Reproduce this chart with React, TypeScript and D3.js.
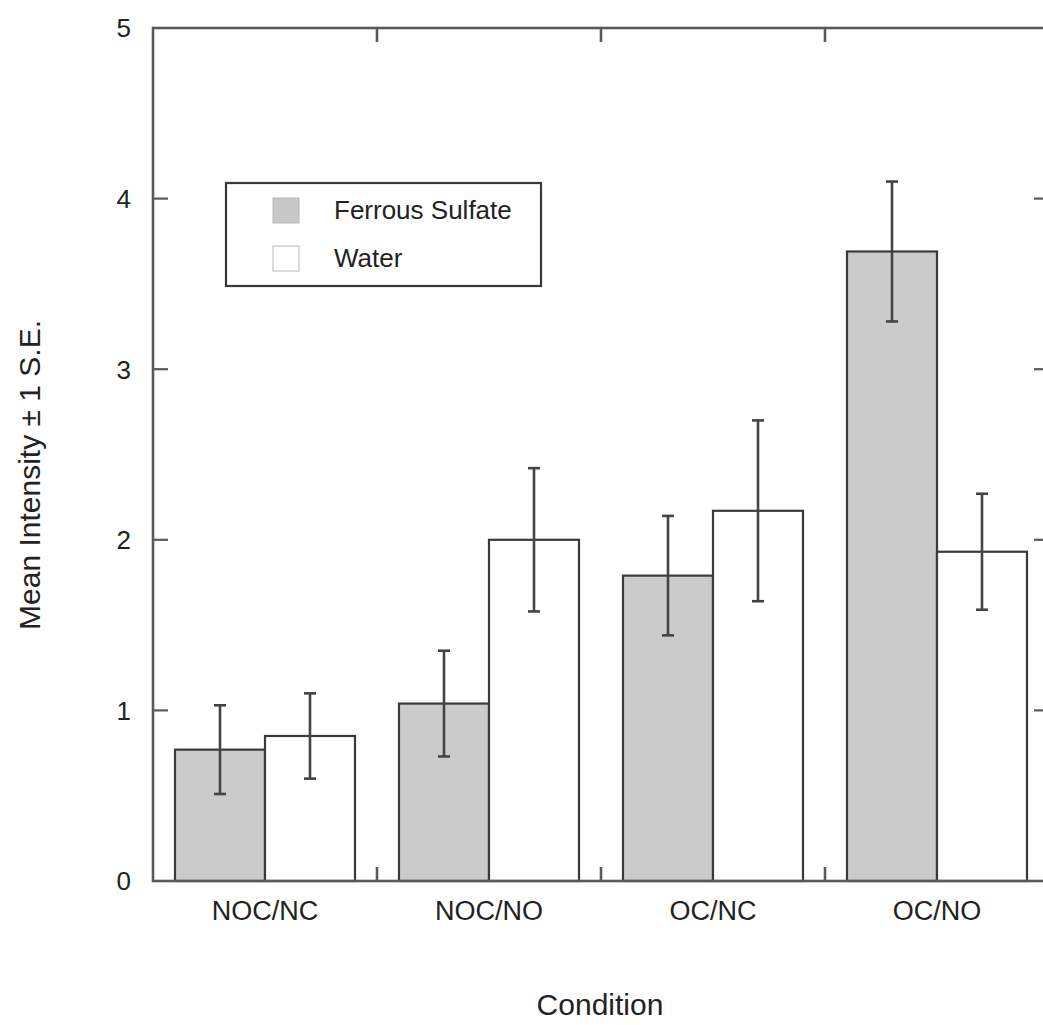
import React from "react";
import * as d3 from "d3";

const categories = ["NOC/NC", "NOC/NO", "OC/NC", "OC/NO"];
const seriesNames = ["Ferrous Sulfate", "Water"];
const ferrousMeans = [0.77, 1.04, 1.79, 3.69];
const ferrousSE = [0.26, 0.31, 0.35, 0.41];
const waterMeans = [0.85, 2.0, 2.17, 1.93];
const waterSE = [0.25, 0.42, 0.53, 0.34];
const yTicks = [0, 1, 2, 3, 4, 5];

const W = 1043;
const H = 1025;
const left = 153;
const right = 1049;
const top = 28;
const bottom = 881;

export default function App() {
  const x = d3.scaleBand<string>().domain(categories).range([left, right]).padding(0);
  const xs = d3.scaleBand<string>().domain(seriesNames).range([22, 202]).padding(0);
  const y = d3.scaleLinear().domain([0, 5]).range([bottom, top]);

  const series = [
    { name: seriesNames[0], means: ferrousMeans, se: ferrousSE, fill: "#cbcbcb" },
    { name: seriesNames[1], means: waterMeans, se: waterSE, fill: "#ffffff" },
  ];

  const axisColor = "#5a5a5a";
  const font = "'Liberation Sans', Arial, Helvetica, sans-serif";
  const boundaries = categories.slice(1).map((c) => x(c)!);

  return (
    <div style={{ position: "fixed", left: 0, top: 0, width: W, height: H, overflow: "hidden", background: "#fff" }}>
      <svg width={W} height={H} style={{ display: "block" }}>
        <rect x={0} y={0} width={W} height={H} fill="#fff" />
        {series.map((s) =>
          categories.map((c, i) => {
            const bx = x(c)! + xs(s.name)!;
            const bw = xs.bandwidth();
            return (
              <rect
                key={s.name + c}
                x={bx}
                y={y(s.means[i])}
                width={bw}
                height={y(0) - y(s.means[i])}
                fill={s.fill}
                stroke="#3a3a3a"
                strokeWidth={2.2}
              />
            );
          })
        )}
        {series.map((s) =>
          categories.map((c, i) => {
            const cx = x(c)! + xs(s.name)! + xs.bandwidth() / 2;
            const hi = y(s.means[i] + s.se[i]);
            const lo = y(s.means[i] - s.se[i]);
            return (
              <g key={"e" + s.name + c} stroke="#444" strokeWidth={2.6}>
                <line x1={cx} x2={cx} y1={hi} y2={lo} />
                <line x1={cx - 6} x2={cx + 6} y1={hi} y2={hi} />
                <line x1={cx - 6} x2={cx + 6} y1={lo} y2={lo} />
              </g>
            );
          })
        )}
        <rect x={left} y={top} width={right - left} height={bottom - top} fill="none" stroke={axisColor} strokeWidth={2.6} />
        {yTicks.slice(1, 5).map((t) => (
          <g key={"yt" + t} stroke={axisColor} strokeWidth={2.2}>
            <line x1={left} x2={left + 15} y1={y(t)} y2={y(t)} />
            <line x1={right} x2={right - 15} y1={y(t)} y2={y(t)} />
          </g>
        ))}
        {boundaries.map((b) => (
          <g key={"xt" + b} stroke={axisColor} strokeWidth={2.6}>
            <line x1={b} x2={b} y1={bottom} y2={bottom - 14} />
            <line x1={b} x2={b} y1={top} y2={top + 14} />
          </g>
        ))}
        {yTicks.map((t) => (
          <text
            key={"yl" + t}
            x={131}
            y={y(t)}
            dy="0.36em"
            textAnchor="end"
            fontFamily={font}
            fontSize={26}
            fill="#222"
          >
            {t}
          </text>
        ))}
        {categories.map((c) => (
          <text
            key={"cl" + c}
            x={x(c)! + x.bandwidth() / 2}
            y={920}
            textAnchor="middle"
            fontFamily={font}
            fontSize={27}
            fill="#222"
          >
            {c}
          </text>
        ))}
        <text x={600} y={1015} textAnchor="middle" fontFamily={font} fontSize={30} fill="#222">
          Condition
        </text>
        <text
          transform={`translate(40,475) rotate(-90)`}
          textAnchor="middle"
          fontFamily={font}
          fontSize={30}
          fill="#222"
        >
          Mean Intensity ± 1 S.E.
        </text>
        <g>
          <rect x={226} y={183} width={315} height={103} fill="#fff" stroke="#3a3a3a" strokeWidth={2.2} />
          <rect x={273} y={198} width={26} height={25} fill="#c8c8c8" stroke="#b8b8b8" strokeWidth={1} />
          <rect x={273} y={246} width={26} height={25} fill="#fff" stroke="#cfcfcf" strokeWidth={1.5} />
          <text x={334} y={219} fontFamily={font} fontSize={26} fill="#222">
            {seriesNames[0]}
          </text>
          <text x={334} y={267} fontFamily={font} fontSize={26} fill="#222">
            {seriesNames[1]}
          </text>
        </g>
      </svg>
    </div>
  );
}
